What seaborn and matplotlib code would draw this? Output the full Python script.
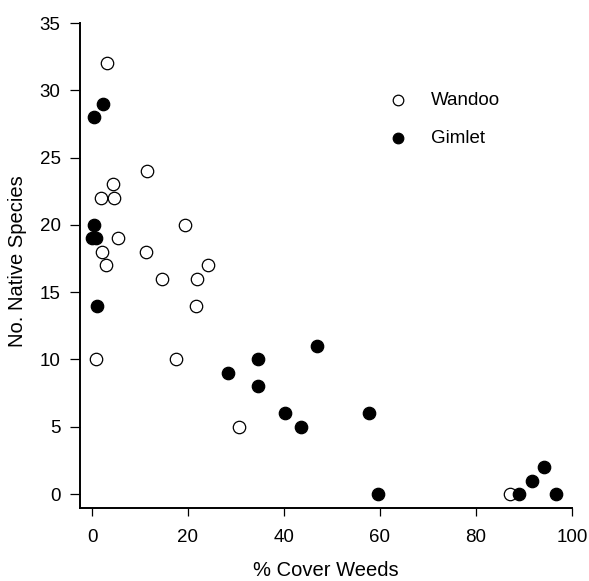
import matplotlib
matplotlib.use("Agg")
import matplotlib.pyplot as plt
import seaborn as sns
import pandas as pd

wandoo_x = [3.2, 11.5, 4.3, 1.9, 4.6, 5.5, 2.1, 2.9, 11.3, 19.4, 14.6, 21.9, 24.2, 21.6, 0.8, 17.6, 30.6, 87.0]
wandoo_y = [32, 24, 23, 22, 22, 19, 18, 17, 18, 20, 16, 16, 17, 14, 10, 10, 5, 0]
gimlet_x = [0.5, 2.2, 0.5, -0.1, 0.8, 1.1, 28.4, 34.6, 34.5, 40.3, 43.5, 46.9, 57.8, 59.5, 89.0, 91.7, 94.2, 96.7]
gimlet_y = [28, 29, 20, 19, 19, 14, 9, 10, 8, 6, 5, 11, 6, 0, 0, 1, 2, 0]
x_ticks = [0, 20, 40, 60, 80, 100]
y_ticks = [0, 5, 10, 15, 20, 25, 30, 35]

df = pd.concat([
    pd.DataFrame({"x": wandoo_x, "y": wandoo_y, "site": "Wandoo"}),
    pd.DataFrame({"x": gimlet_x, "y": gimlet_y, "site": "Gimlet"}),
])

sns.set_style("ticks")
plt.rcParams["font.family"] = ["Liberation Sans", "DejaVu Sans"]
plt.rcParams["text.color"] = "black"
plt.rcParams["axes.labelcolor"] = "black"

fig = plt.figure(figsize=(5.89, 5.81), dpi=100)
ax = fig.add_axes([80/589, 1-508/581, (572-80)/589, (508-23)/581])

styles = {"Wandoo": "white", "Gimlet": "black"}
for site, fc in styles.items():
    sub = df[df["site"] == site]
    sns.scatterplot(data=sub, x="x", y="y", ax=ax, s=80, color=fc,
                    edgecolor="black", linewidth=0.9, label=site, clip_on=False, zorder=3)

ax.set_xlim(-2.5, 100)
ax.set_ylim(-1.04, 35)
ax.set_xticks(x_ticks)
ax.set_yticks(y_ticks)
ax.tick_params(direction="out", width=0.9, labelsize=13.5, colors="black")
ax.tick_params(axis="x", length=5.5, pad=9.5)
ax.tick_params(axis="y", length=7.5, pad=6.5)
for s in ["top", "right"]:
    ax.spines[s].set_visible(False)
for s in ["left", "bottom"]:
    ax.spines[s].set_linewidth(1.4)
    ax.spines[s].set_color("black")
ax.set_xlabel("% Cover Weeds", fontsize=14.5, color="black")
ax.set_ylabel("No. Native Species", fontsize=14.5, color="black")
ax.xaxis.set_label_coords(0.499, -0.109)
ax.yaxis.set_label_coords(-0.108, 0.508)

leg = ax.legend(loc="upper left", bbox_to_anchor=(0.574, 0.892), frameon=False,
                fontsize=13.5, markerscale=0.85, handletextpad=0.76, labelspacing=1.1)

fig.savefig("out.png", dpi=100)
